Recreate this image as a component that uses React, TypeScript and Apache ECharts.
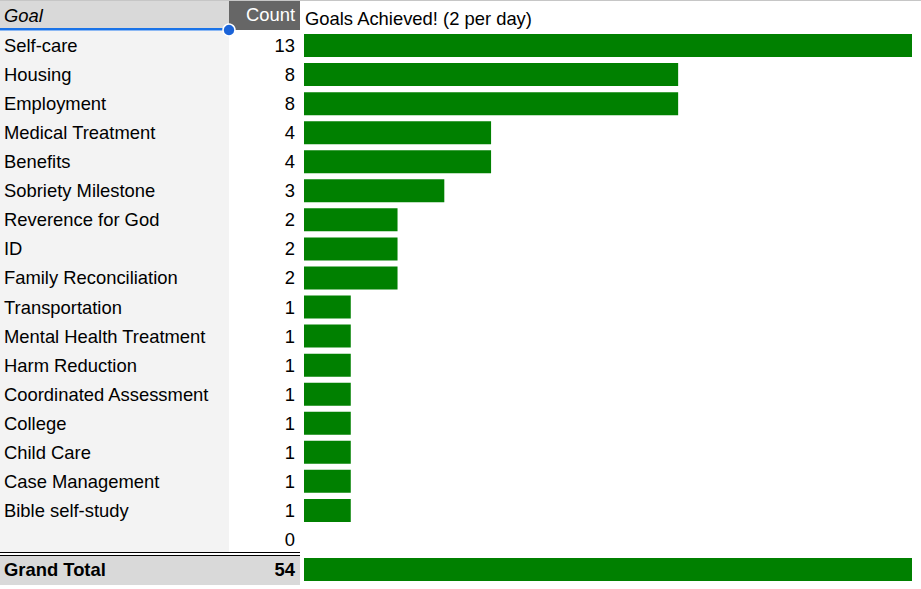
import React, { useEffect, useRef } from "react";
import * as echarts from "echarts";

const goals = [
  "Self-care",
  "Housing",
  "Employment",
  "Medical Treatment",
  "Benefits",
  "Sobriety Milestone",
  "Reverence for God",
  "ID",
  "Family Reconciliation",
  "Transportation",
  "Mental Health Treatment",
  "Harm Reduction",
  "Coordinated Assessment",
  "College",
  "Child Care",
  "Case Management",
  "Bible self-study",
  "",
];
const counts = [13, 8, 8, 4, 4, 3, 2, 2, 2, 1, 1, 1, 1, 1, 1, 1, 1, 0];
const headerGoal = "Goal";
const headerCount = "Count";
const chartTitle = "Goals Achieved! (2 per day)";
const totalLabel = "Grand Total";
const total = counts.reduce((a, b) => a + b, 0);

const FONT = "'Liberation Sans', Arial, sans-serif";
const GREEN = "#008000";
const FS = 18.4;

export default function App() {
  const ref = useRef<HTMLDivElement>(null);
  useEffect(() => {
    if (!ref.current) return;
    const chart = echarts.init(ref.current, undefined, { renderer: "svg" });
    const labelBase = { fontSize: FS, color: "#000", fontFamily: FONT };
    chart.setOption({
      animation: false,
      textStyle: { fontFamily: FONT },
      grid: [
        { left: 304, right: 9, top: 31, height: 523, containLabel: false },
        { left: 304, right: 9, top: 558, height: 23, containLabel: false },
      ],
      xAxis: [
        { type: "value", gridIndex: 0, min: 0, max: Math.max(...counts), show: false },
        { type: "value", gridIndex: 1, min: 0, max: total, show: false },
      ],
      yAxis: [
        {
          type: "category",
          gridIndex: 0,
          data: goals,
          inverse: true,
          axisLine: { show: false },
          axisTick: { show: false },
          splitLine: { show: false },
          axisLabel: { ...labelBase, align: "left", margin: 300, interval: 0, padding: [4, 0, 0, 0] },
        },
        {
          type: "category",
          gridIndex: 0,
          data: goals,
          inverse: true,
          position: "left",
          axisLine: { show: false },
          axisTick: { show: false },
          splitLine: { show: false },
          axisLabel: {
            ...labelBase,
            align: "right",
            margin: 9,
            interval: 0,
            padding: [4, 0, 0, 0],
            formatter: (_v: string, i: number) => String(counts[i]),
          },
        },
        {
          type: "category",
          gridIndex: 1,
          data: [totalLabel],
          axisLine: { show: false },
          axisTick: { show: false },
          axisLabel: { ...labelBase, fontWeight: "bold", align: "left", margin: 300, padding: [5, 0, 0, 0] },
        },
        {
          type: "category",
          gridIndex: 1,
          data: [totalLabel],
          position: "left",
          axisLine: { show: false },
          axisTick: { show: false },
          axisLabel: {
            ...labelBase,
            fontWeight: "bold",
            align: "right",
            margin: 9,
            padding: [5, 0, 0, 0],
            formatter: () => String(total),
          },
        },
      ],
      series: [
        {
          type: "bar",
          xAxisIndex: 0,
          yAxisIndex: 0,
          data: counts,
          barWidth: 23,
          itemStyle: { color: GREEN },
        },
        {
          type: "bar",
          xAxisIndex: 1,
          yAxisIndex: 2,
          data: [total],
          barWidth: 23,
          itemStyle: { color: GREEN },
        },
      ],
      graphic: [
        { type: "rect", z: -1, shape: { x: 0, y: 0, width: 921, height: 1 }, style: { fill: "#c6c6c6" } },
        { type: "rect", z: -1, shape: { x: 0, y: 1, width: 229, height: 28 }, style: { fill: "#d9d9d9" } },
        { type: "rect", z: -1, shape: { x: 229, y: 1, width: 71, height: 29 }, style: { fill: "#666666" } },
        { type: "rect", z: -1, shape: { x: 0, y: 31, width: 229, height: 521 }, style: { fill: "#f3f3f3" } },
        { type: "rect", z: -1, shape: { x: 0, y: 556, width: 300, height: 29 }, style: { fill: "#d9d9d9" } },
        { type: "rect", z: 5, shape: { x: 0, y: 28, width: 229, height: 2.5 }, style: { fill: "#1a73e8" } },
        { type: "circle", z: 6, shape: { cx: 229, cy: 30, r: 6 }, style: { fill: "#1a63d8", stroke: "#fff", lineWidth: 1.5 } },
        { type: "line", z: 5, shape: { x1: 0, y1: 552.5, x2: 300, y2: 552.5 }, style: { stroke: "#000", lineWidth: 1 } },
        { type: "line", z: 5, shape: { x1: 0, y1: 555.5, x2: 300, y2: 555.5 }, style: { stroke: "#000", lineWidth: 1 } },
        {
          type: "text",
          z: 5,
          x: 4,
          y: 15,
          style: { text: headerGoal, fontSize: FS, fontStyle: "italic", fill: "#000", fontFamily: FONT, textVerticalAlign: "middle", verticalAlign: "middle" },
        },
        {
          type: "text",
          z: 5,
          x: 295,
          y: 14,
          style: { text: headerCount, fontSize: FS, fill: "#fff", fontFamily: FONT, align: "right", textAlign: "right", verticalAlign: "middle", textVerticalAlign: "middle" },
        },
        {
          type: "text",
          z: 5,
          x: 305,
          y: 18.5,
          style: { text: chartTitle, fontSize: FS, fill: "#000", fontFamily: FONT, verticalAlign: "middle", textVerticalAlign: "middle" },
        },
      ],
    });
    return () => chart.dispose();
  }, []);
  return (
    <div
      ref={ref}
      style={{ position: "fixed", left: 0, top: 0, width: 921, height: 589, background: "#fff" }}
    />
  );
}
